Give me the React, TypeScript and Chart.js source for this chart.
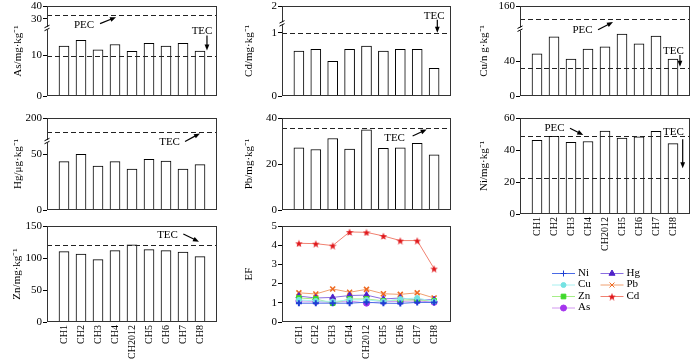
import React, { useEffect, useRef } from 'react';
import { Chart, registerables } from 'chart.js';
import { drawPoint } from 'chart.js/helpers';

Chart.register(...registerables);

const FONT = "'Liberation Serif', 'Times New Roman', serif";

// ---------------- data ----------------
const categories = ['CH1', 'CH2', 'CH3', 'CH4', 'CH2012', 'CH5', 'CH6', 'CH7', 'CH8'];
const axisLabels = ['', ...categories, ''];

const asValues = [12.3, 13.7, 11.4, 12.7, 11.0, 13.0, 12.3, 13.0, 11.1];
const cdValues = [0.71, 0.74, 0.55, 0.74, 0.79, 0.71, 0.74, 0.74, 0.44];
const cuValues = [48.1, 67.6, 42.1, 53.8, 56.2, 70.8, 59.7, 68.6, 42.1];
const hgValues = [43.5, 50.0, 39.4, 43.5, 36.8, 45.6, 44.0, 36.8, 40.8];
const pbValues = [27.0, 26.3, 31.1, 26.5, 34.9, 26.8, 27.0, 29.0, 24.0];
const niValues = [46.1, 48.6, 44.8, 45.3, 51.8, 47.4, 48.2, 51.6, 44.0];
const znValues = [109.9, 106.2, 97.5, 111.4, 120.7, 113.0, 111.4, 109.3, 102.2];

const efNi = [0.98, 0.98, 0.98, 0.98, 1.03, 0.98, 0.97, 1.02, 1.02];
const efCu = [1.15, 1.1, 1.07, 1.15, 1.15, 1.07, 1.2, 1.25, 1.07];
const efZn = [1.25, 1.2, 0.98, 1.2, 1.2, 1.1, 1.15, 1.15, 1.1];
const efAs = [1.1, 1.07, 1.03, 1.1, 0.98, 1.07, 1.07, 1.1, 1.03];
const efHg = [1.35, 1.25, 1.28, 1.38, 1.4, 1.2, 1.25, 1.16, 1.16];
const efPb = [1.52, 1.46, 1.72, 1.55, 1.7, 1.47, 1.44, 1.52, 1.25];
const efCd = [4.1, 4.08, 3.98, 4.69, 4.67, 4.48, 4.24, 4.24, 2.78];

// tick labels
const asTicks = [0, 10, 30, 40];
const cdTicks = [0, 1, 2];
const cuTicks = [0, 40, 160];
const hgTicks = [0, 50, 200];
const pbTicks = [0, 20, 40];
const niTicks = [0, 20, 40, 60];
const znTicks = [0, 50, 100, 150];
const efTicks = [0, 1, 2, 3, 4, 5];

// guideline values (TEC / PEC)
const asLines = [9.79, 33.0];
const cdLines = [0.99];
const cuLines = [31.6, 149];
const hgLines = [180];
const pbLines = [35.8];
const niLines = [22.7, 48.6];
const znLines = [121];

// ---------------- helpers ----------------
type Knot = [number, number];
type Box = { x: number; y: number; w: number; h: number };
type Plot = { l: number; t: number; r: number; b: number };
type Txt = { text: string; x: number; y: number };
type Arw = { x1: number; y1: number; x2: number; y2: number };

function makeMap(knots: Knot[]) {
  return (v: number) => {
    if (v <= knots[0][0]) return knots[0][1];
    for (let i = 1; i < knots.length; i++) {
      const [v0, p0] = knots[i - 1];
      const [v1, p1] = knots[i];
      if (v <= v1) return v1 === v0 ? p1 : p0 + ((v - v0) / (v1 - v0)) * (p1 - p0);
    }
    return knots[knots.length - 1][1];
  };
}

function pad(arr: (number | null)[]) {
  return [null, ...arr, null];
}

interface PanelSpec {
  kind: 'bar' | 'line';
  box: Box;
  plot: Plot;
  title: string;
  titleX: number;
  knots: Knot[];
  ticks: number[];
  values?: number[];
  lines?: number[];
  texts?: Txt[];
  arrows?: Arw[];
  showX: boolean;
  legend?: boolean;
}

function drawArrow(ctx: CanvasRenderingContext2D, x1: number, y1: number, x2: number, y2: number) {
  const ang = Math.atan2(y2 - y1, x2 - x1);
  const L = 6;
  const W = 2.4;
  const c = Math.cos(ang);
  const s = Math.sin(ang);
  ctx.beginPath();
  ctx.moveTo(x1, y1);
  ctx.lineTo(x2 - L * 0.7 * c, y2 - L * 0.7 * s);
  ctx.stroke();
  ctx.beginPath();
  ctx.moveTo(x2, y2);
  ctx.lineTo(x2 - L * c + W * s, y2 - L * s - W * c);
  ctx.lineTo(x2 - L * c - W * s, y2 - L * s + W * c);
  ctx.closePath();
  ctx.fill();
}

function decor(spec: PanelSpec, map: (v: number) => number) {
  return {
    id: 'decor',
    afterDatasetsDraw(chart: any) {
      const { ctx, chartArea: a, scales } = chart;
      const xs = scales.x;
      const ys = scales.y;
      ctx.save();
      ctx.strokeStyle = '#000';
      ctx.fillStyle = '#000';
      ctx.lineWidth = 1;
      // guideline dashes
      (spec.lines || []).forEach((v) => {
        const py = Math.round(ys.getPixelForValue(map(v))) + 0.5;
        ctx.save();
        ctx.strokeStyle = '#222';
        ctx.setLineDash([5, 3]);
        ctx.beginPath();
        ctx.moveTo(a.left, py);
        ctx.lineTo(a.right, py);
        ctx.stroke();
        ctx.restore();
      });
      // frame
      ctx.strokeStyle = '#333';
      ctx.strokeRect(a.left + 0.5, a.top + 0.5, a.right - a.left - 1, a.bottom - a.top - 1);
      ctx.strokeStyle = '#000';
      // axis break marks
      for (let i = 1; i < spec.knots.length; i++) {
        if (spec.knots[i][1] === spec.knots[i - 1][1]) {
          const py = ys.getPixelForValue(spec.knots[i][1]);
          const px = a.left + 0.5;
          ctx.fillStyle = '#fff';
          ctx.fillRect(px - 1.5, py - 1.5, 3, 3);
          ctx.beginPath();
          ctx.moveTo(px - 3, py - 0.5);
          ctx.lineTo(px + 2, py - 3);
          ctx.moveTo(px - 3, py + 2.5);
          ctx.lineTo(px + 2, py);
          ctx.stroke();
          ctx.fillStyle = '#000';
        }
      }
      // annotation texts
      ctx.font = `11px ${FONT}`;
      ctx.textAlign = 'center';
      ctx.textBaseline = 'middle';
      (spec.texts || []).forEach((t) => {
        ctx.fillText(t.text, xs.getPixelForValue(t.x), ys.getPixelForValue(map(t.y)));
      });
      ctx.lineWidth = 1.2;
      (spec.arrows || []).forEach((r) => {
        drawArrow(
          ctx,
          xs.getPixelForValue(r.x1),
          ys.getPixelForValue(map(r.y1)),
          xs.getPixelForValue(r.x2),
          ys.getPixelForValue(map(r.y2))
        );
      });
      ctx.restore();
    },
  };
}

// legend layout (canvas coordinates of the EF canvas)
const legendCols = [
  { lineX: 322, textX: 348 },
  { lineX: 370.5, textX: 396.5 },
];
const legendRows = [55, 66.5, 78, 89.5];
const legendLineLen = 23;

const legendPlugin = {
  id: 'efLegend',
  afterDraw(chart: any) {
    const { ctx } = chart;
    ctx.save();
    chart.data.datasets.forEach((ds: any, i: number) => {
      const col = legendCols[i < 4 ? 0 : 1];
      const y = legendRows[i < 4 ? i : i - 4];
      ctx.strokeStyle = ds.borderColor;
      ctx.lineWidth = 1;
      ctx.beginPath();
      ctx.moveTo(col.lineX, y + 0.5);
      ctx.lineTo(col.lineX + legendLineLen, y + 0.5);
      ctx.stroke();
      ctx.fillStyle = ds.pointBackgroundColor;
      ctx.strokeStyle = ds.pointBorderColor;
      drawPoint(
        ctx,
        { pointStyle: ds.pointStyle, radius: ds.pointRadius, borderWidth: ds.pointBorderWidth, rotation: 0 } as any,
        col.lineX + legendLineLen / 2,
        y + 0.5
      );
      ctx.fillStyle = '#000';
      ctx.font = `11px ${FONT}`;
      ctx.textAlign = 'left';
      ctx.textBaseline = 'middle';
      ctx.fillText(ds.label, col.textX, y);
    });
    ctx.restore();
  },
};

function makeStar(color: string, size: number) {
  const c = document.createElement('canvas');
  c.width = size;
  c.height = size;
  const g = c.getContext('2d')!;
  const cx = size / 2;
  const R = size / 2;
  const r = R * 0.42;
  g.beginPath();
  for (let i = 0; i < 10; i++) {
    const ang = -Math.PI / 2 + (i * Math.PI) / 5;
    const rad = i % 2 ? r : R;
    g.lineTo(cx + rad * Math.cos(ang), cx + 0.5 + rad * Math.sin(ang));
  }
  g.closePath();
  g.fillStyle = color;
  g.fill();
  return c;
}

const efSeries = [
  { label: 'Ni', values: efNi, line: '#4a6ae6', marker: '#1e3fd2', style: 'cross', radius: 3, bw: 2 },
  { label: 'Cu', values: efCu, line: '#a8f0f0', marker: '#74e2e2', style: 'circle', radius: 2.5, bw: 1 },
  { label: 'Zn', values: efZn, line: '#a6ee88', marker: '#3fd82a', style: 'rect', radius: 3.3, bw: 1 },
  { label: 'As', values: efAs, line: '#d298f0', marker: '#a534ee', style: 'circle', radius: 3, bw: 1 },
  { label: 'Hg', values: efHg, line: '#8a6ee0', marker: '#4f22c8', style: 'triangle', radius: 3.5, bw: 1 },
  { label: 'Pb', values: efPb, line: '#f0a070', marker: '#ee6a22', style: 'crossRot', radius: 3.5, bw: 1.6 },
  { label: 'Cd', values: efCd, line: '#f08070', marker: '#e0181c', style: 'star', radius: 4, bw: 1 },
];

// ---------------- panels ----------------
const panels: PanelSpec[] = [
  {
    kind: 'bar', box: { x: 0, y: 0, w: 230, h: 110 }, plot: { l: 47, t: 6, r: 217, b: 103 },
    title: 'As/mg·kg⁻¹', titleX: 18,
    knots: [[0, 0], [16.7, 0.753], [22.9, 0.753], [40, 1]], ticks: asTicks, values: asValues, lines: asLines,
    texts: [{ text: 'PEC', x: 2.18, y: 25.3 }, { text: 'TEC', x: 9.12, y: 16.0 }],
    arrows: [{ x1: 3.12, y1: 26.4, x2: 4.06, y2: 31.4 }, { x1: 9.41, y1: 14.9, x2: 9.41, y2: 11.2 }],
    showX: false,
  },
  {
    kind: 'bar', box: { x: 230, y: 0, w: 230, h: 110 }, plot: { l: 282, t: 6, r: 451, b: 103 },
    title: 'Cd/mg·kg⁻¹', titleX: 249,
    knots: [[0, 0], [1.146, 0.804], [1.5, 0.804], [2, 1]], ticks: cdTicks, values: cdValues, lines: cdLines,
    texts: [{ text: 'TEC', x: 9.0, y: 1.72 }],
    arrows: [{ x1: 9.19, y1: 1.61, x2: 9.19, y2: 1.0 }],
    showX: false,
  },
  {
    kind: 'bar', box: { x: 460, y: 0, w: 240, h: 110 }, plot: { l: 520, t: 6, r: 690, b: 103 },
    title: 'Cu/n g·kg⁻¹', titleX: 484.5,
    knots: [[0, 0], [76.7, 0.745], [140.6, 0.745], [160, 1]], ticks: cuTicks, values: cuValues, lines: cuLines,
    texts: [{ text: 'PEC', x: 3.68, y: 75.0 }, { text: 'TEC', x: 9.03, y: 51.7 }],
    arrows: [{ x1: 4.59, y1: 75.7, x2: 5.47, y2: 146.5 }, { x1: 9.41, y1: 47.0, x2: 9.41, y2: 33.5 }],
    showX: false,
  },
  {
    kind: 'bar', box: { x: 0, y: 110, w: 230, h: 108 }, plot: { l: 47, t: 118, r: 217, b: 214 },
    title: 'Hg/μg·kg⁻¹', titleX: 18,
    knots: [[0, 0], [61.7, 0.747], [167, 0.747], [200, 1]], ticks: hgTicks, values: hgValues, lines: hgLines,
    texts: [{ text: 'TEC', x: 7.21, y: 60.8 }],
    arrows: [{ x1: 8.12, y1: 61.5, x2: 9.0, y2: 178.2 }],
    showX: false,
  },
  {
    kind: 'bar', box: { x: 230, y: 110, w: 230, h: 108 }, plot: { l: 282, t: 118, r: 451, b: 214 },
    title: 'Pb/mg·kg⁻¹', titleX: 249,
    knots: [[0, 0], [40, 1]], ticks: pbTicks, values: pbValues, lines: pbLines,
    texts: [{ text: 'TEC', x: 6.66, y: 31.1 }],
    arrows: [{ x1: 7.73, y1: 32.2, x2: 8.56, y2: 35.0 }],
    showX: false,
  },
  {
    kind: 'bar', box: { x: 460, y: 110, w: 240, h: 150 }, plot: { l: 520, t: 118, r: 690, b: 214 },
    title: 'Ni/mg·kg⁻¹', titleX: 484.5,
    knots: [[0, 0], [60, 1]], ticks: niTicks, values: niValues, lines: niLines,
    texts: [{ text: 'PEC', x: 2.03, y: 53.6 }, { text: 'TEC', x: 9.03, y: 51.4 }],
    arrows: [{ x1: 2.94, y1: 53.6, x2: 3.72, y2: 49.4 }, { x1: 9.57, y1: 46.7, x2: 9.57, y2: 28.6 }],
    showX: true,
  },
  {
    kind: 'bar', box: { x: 0, y: 218, w: 230, h: 142 }, plot: { l: 47, t: 226, r: 217, b: 322 },
    title: 'Zn/mg·kg⁻¹', titleX: 17,
    knots: [[0, 0], [150, 1]], ticks: znTicks, values: znValues, lines: znLines,
    texts: [{ text: 'TEC', x: 7.09, y: 135.9 }],
    arrows: [{ x1: 8.02, y1: 137.5, x2: 8.94, y2: 125.5 }],
    showX: true,
  },
  {
    kind: 'line', box: { x: 230, y: 218, w: 470, h: 142 }, plot: { l: 282, t: 226, r: 451, b: 322 },
    title: 'EF', titleX: 249,
    knots: [[0, 0], [5, 1]], ticks: efTicks,
    showX: true, legend: true,
  },
];

function buildConfig(spec: PanelSpec): any {
  const map = makeMap(spec.knots);
  const { box, plot } = spec;
  const yWidth = plot.l - box.x;
  const xHeight = box.y + box.h - plot.b;
  let datasets: any[];
  if (spec.kind === 'bar') {
    datasets = [
      {
        data: pad((spec.values || []).map(map)),
        backgroundColor: '#ffffff',
        borderColor: '#000',
        borderWidth: 1,
        barThickness: 10,
      },
    ];
  } else {
    datasets = efSeries.map((s) => {
      const style = s.style === 'star' ? makeStar(s.marker, 8) : s.style;
      return {
        label: s.label,
        data: pad(s.values.map(map)),
        borderColor: s.line,
        backgroundColor: s.marker,
        pointBackgroundColor: s.marker,
        pointBorderColor: s.marker,
        pointStyle: style,
        pointRadius: s.radius,
        pointBorderWidth: s.bw,
        borderWidth: 1,
        tension: 0,
      };
    });
  }
  const plugins: any[] = [decor(spec, map)];
  if (spec.legend) plugins.push(legendPlugin);
  return {
    type: spec.kind,
    data: { labels: axisLabels, datasets },
    options: {
      animation: false,
      responsive: false,
      devicePixelRatio: 1,
      events: [],
      layout: {
        padding: {
          left: 0,
          top: plot.t - box.y,
          right: box.x + box.w - plot.r,
          bottom: spec.showX ? 0 : box.y + box.h - plot.b,
        },
      },
      plugins: { legend: { display: false }, tooltip: { enabled: false } },
      scales: {
        x: {
          type: 'category',
          offset: false,
          display: spec.showX,
          grid: { display: false, drawTicks: false },
          border: { display: false },
          ticks: {
            autoSkip: false,
            minRotation: 90,
            maxRotation: 90,
            padding: 3,
            color: '#000',
            font: { family: FONT, size: 10 },
          },
          afterFit: (s: any) => {
            s.height = xHeight;
            s.paddingLeft = 0;
            s.paddingRight = 0;
          },
        },
        y: {
          type: 'linear',
          min: 0,
          max: 1,
          afterBuildTicks: (s: any) => {
            s.ticks = spec.ticks.map((v) => ({ value: map(v) }));
          },
          ticks: {
            autoSkip: false,
            padding: 1,
            color: '#000',
            font: { family: FONT, size: 11 },
            callback: (_v: any, i: number) => String(spec.ticks[i]),
          },
          grid: { display: true, drawOnChartArea: false, drawTicks: true, tickLength: 4, color: '#000' },
          border: { display: false },
          title: {
            display: true,
            text: spec.title,
            color: '#000',
            font: { family: FONT, size: 11 },
            padding: { top: spec.titleX - box.x - 6.6, bottom: 0 },
          },
          afterFit: (s: any) => {
            s.width = yWidth;
            s.paddingTop = 0;
            s.paddingBottom = 0;
          },
        },
      },
    },
    plugins,
  };
}

function Panel({ spec }: { spec: PanelSpec }) {
  const ref = useRef<HTMLCanvasElement>(null);
  useEffect(() => {
    if (!ref.current) return;
    const chart = new Chart(ref.current, buildConfig(spec));
    return () => chart.destroy();
  }, [spec]);
  return (
    <canvas
      ref={ref}
      width={spec.box.w}
      height={spec.box.h}
      style={{ position: 'absolute', left: spec.box.x, top: spec.box.y, width: spec.box.w, height: spec.box.h }}
    />
  );
}

export default function App() {
  return (
    <div style={{ position: 'absolute', left: 0, top: 0, width: 700, height: 360, background: '#fff', overflow: 'hidden' }}>
      {panels.map((p, i) => (
        <Panel key={i} spec={p} />
      ))}
    </div>
  );
}
